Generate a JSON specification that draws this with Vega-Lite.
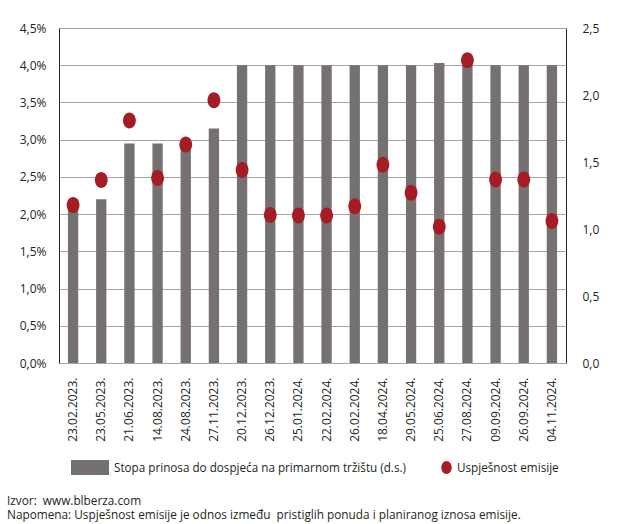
{
  "$schema": "https://vega.github.io/schema/vega-lite/v6.json",
  "autosize": "none",
  "width": 507,
  "height": 335,
  "padding": {"left": 59, "top": 28, "right": 54, "bottom": 161},
  "background": "white",
  "config": {
    "font": "Open Sans",
    "view": {"stroke": "#231F20", "strokeWidth": 1},
    "axis": {"labelFont": "Open Sans", "labelFontSize": 12, "labelColor": "#231F20", "ticks": false, "domain": false, "title": null},
    "legend": {"labelFont": "Open Sans", "labelFontSize": 11.7, "labelColor": "#231F20", "padding": 0, "title": null, "labelLimit": 400}
  },
  "title": {
    "text": ["Izvor:\u00a0\u00a0www.blberza.com", "Napomena: Uspješnost emisije je odnos između\u00a0\u00a0pristiglih ponuda i planiranog iznosa emisije."],
    "orient": "bottom",
    "anchor": "start",
    "frame": "group",
    "dx": -52,
    "offset": 20,
    "fontSize": 11.8,
    "fontWeight": "normal",
    "color": "#231F20",
    "lineHeight": 14.5
  },
  "data": {
    "values": [
      {"datum_label": "23.02.2023.", "prinos": 2.10, "uspjesnost": 1.18},
      {"datum_label": "23.05.2023.", "prinos": 2.20, "uspjesnost": 1.365},
      {"datum_label": "21.06.2023.", "prinos": 2.95, "uspjesnost": 1.81},
      {"datum_label": "14.08.2023.", "prinos": 2.95, "uspjesnost": 1.38},
      {"datum_label": "24.08.2023.", "prinos": 2.95, "uspjesnost": 1.63},
      {"datum_label": "27.11.2023.", "prinos": 3.15, "uspjesnost": 1.96},
      {"datum_label": "20.12.2023.", "prinos": 4.00, "uspjesnost": 1.44},
      {"datum_label": "26.12.2023.", "prinos": 4.00, "uspjesnost": 1.105},
      {"datum_label": "25.01.2024.", "prinos": 4.00, "uspjesnost": 1.10},
      {"datum_label": "22.02.2024.", "prinos": 4.00, "uspjesnost": 1.10},
      {"datum_label": "26.02.2024.", "prinos": 4.00, "uspjesnost": 1.17},
      {"datum_label": "18.04.2024.", "prinos": 4.00, "uspjesnost": 1.48},
      {"datum_label": "29.05.2024.", "prinos": 4.00, "uspjesnost": 1.27},
      {"datum_label": "25.06.2024.", "prinos": 4.03, "uspjesnost": 1.016},
      {"datum_label": "27.08.2024.", "prinos": 4.00, "uspjesnost": 2.26},
      {"datum_label": "09.09.2024.", "prinos": 4.00, "uspjesnost": 1.37},
      {"datum_label": "26.09.2024.", "prinos": 4.00, "uspjesnost": 1.37},
      {"datum_label": "04.11.2024.", "prinos": 4.00, "uspjesnost": 1.06}
    ]
  },
  "encoding": {
    "x": {
      "field": "datum_label",
      "type": "nominal",
      "sort": null,
      "scale": {"paddingInner": 0.634, "paddingOuter": 0.317},
      "axis": {"labelAngle": -90, "labelPadding": 14, "grid": false}
    }
  },
  "layer": [
    {
      "mark": {"type": "bar", "color": "#767171"},
      "encoding": {
        "y": {
          "field": "prinos",
          "type": "quantitative",
          "scale": {"domain": [0, 4.5], "nice": false},
          "axis": {
            "values": [0, 0.5, 1, 1.5, 2, 2.5, 3, 3.5, 4, 4.5],
            "labelExpr": "replace(format(datum.value, '.1f'), '.', ',') + '%'",
            "grid": true,
            "gridColor": "#A6A6A6",
            "gridWidth": 1,
            "labelPadding": 13
          }
        },
        "color": {
          "datum": "Stopa prinosa do dospjeća na primarnom tržištu (d.s.)",
          "type": "nominal",
          "scale": {"range": ["#767171"]},
          "legend": {
            "orient": "none",
            "legendX": 12,
            "legendY": 420.5,
            "symbolType": "M-1,-0.4H1V0.4H-1Z",
            "symbolSize": 1444,
            "symbolStrokeWidth": 0,
            "labelOffset": 5
          }
        }
      }
    },
    {
      "mark": {"type": "point", "filled": true, "opacity": 1, "shape": "M0,-1A0.8,1 0 1,1 0,1A0.8,1 0 1,1 0,-1Z", "size": 256},
      "encoding": {
        "y": {
          "field": "uspjesnost",
          "type": "quantitative",
          "scale": {"domain": [0, 2.5], "nice": false},
          "axis": {
            "orient": "right",
            "values": [0, 0.5, 1, 1.5, 2, 2.5],
            "labelExpr": "replace(format(datum.value, '.1f'), '.', ',')",
            "grid": false,
            "labelPadding": 16
          }
        },
        "color": {
          "datum": "Uspješnost emisije",
          "type": "nominal",
          "scale": {"range": ["#A51C24"]},
          "legend": {
            "orient": "none",
            "legendX": 381,
            "legendY": 433,
            "symbolType": "M0,-1A0.8,1 0 1,1 0,1A0.8,1 0 1,1 0,-1Z",
            "symbolSize": 169,
            "symbolStrokeWidth": 0,
            "labelOffset": 4
          }
        }
      }
    }
  ],
  "resolve": {"scale": {"y": "independent", "color": "independent"}}
}
